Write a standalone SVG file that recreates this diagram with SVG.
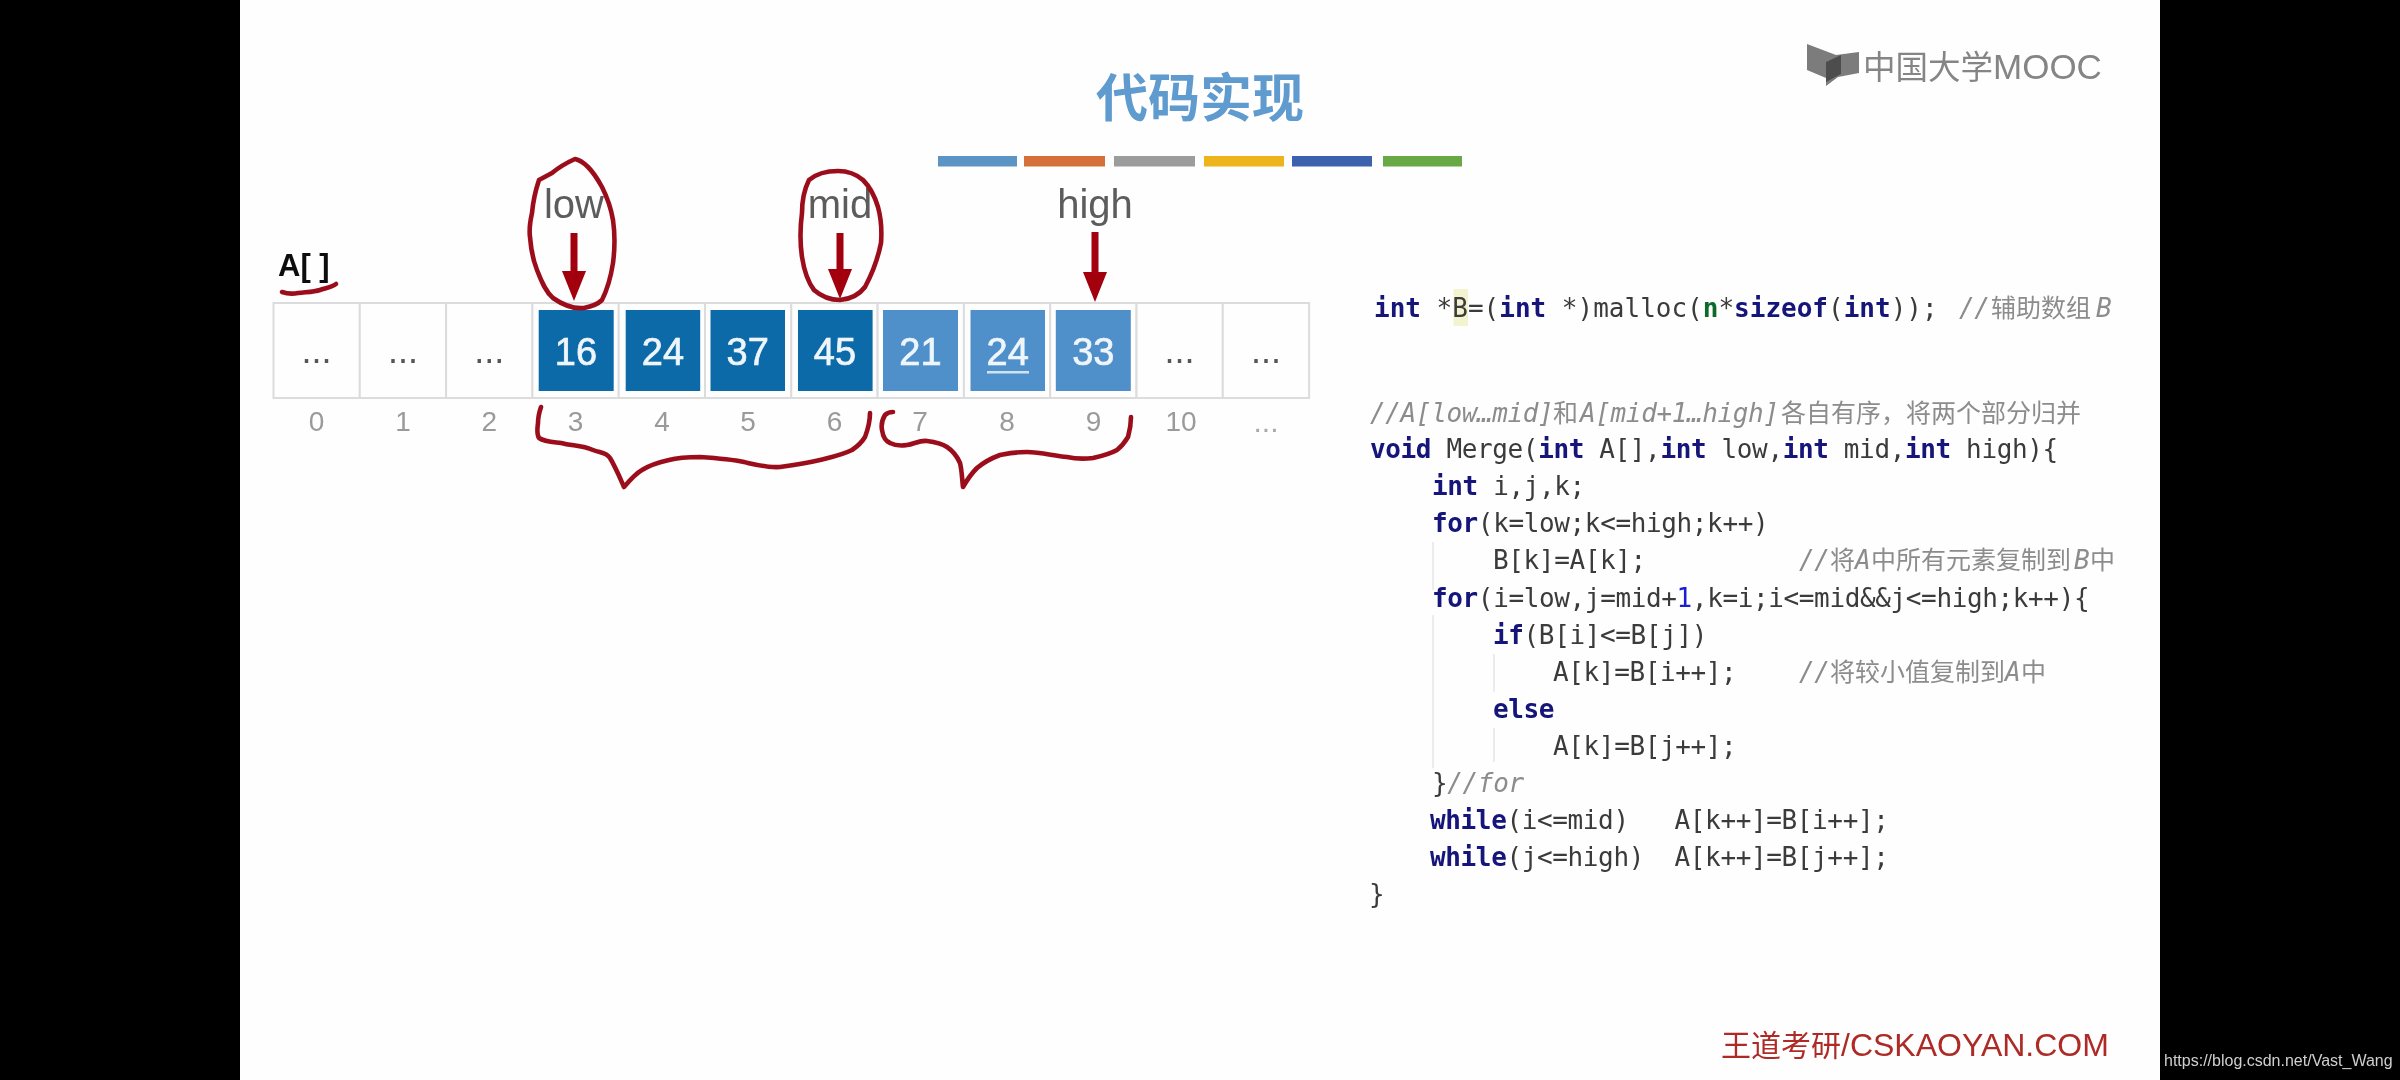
<svg xmlns="http://www.w3.org/2000/svg" width="2400" height="1080" viewBox="0 0 2400 1080">
<style>
.cell{fill:#fefefe;stroke:#dcdcdc;stroke-width:2}
.dark{fill:#0f6aa8}
.light{fill:#5090cb}
.val{font:400 38px "Liberation Sans",sans-serif;fill:#eef6fb;stroke:#eef6fb;stroke-width:.7;text-anchor:middle}
.dots{font:400 36px "Liberation Sans",sans-serif;fill:#555;text-anchor:middle}
.idx{font:400 28px "Liberation Sans",sans-serif;fill:#9a9a9a;text-anchor:middle}
.ptr{font:400 40px "Liberation Sans",sans-serif;fill:#5c5c5c;text-anchor:middle}
.ink{fill:none;stroke:#9c0d1c;stroke-width:4.6;stroke-linecap:round;stroke-linejoin:round}
.arrow{stroke:#a30010;stroke-width:7;fill:none;marker-end:url(#head)}
.code{font:400 26px "DejaVu Sans Mono","Noto Sans CJK SC",monospace;fill:#3a3a3a;white-space:pre;letter-spacing:-.37px}
.wide{letter-spacing:0}
.k{font-weight:700;fill:#12127a}
.c{font-style:italic;fill:#8c8c8c}
.cj{font-size:25px;font-style:normal;letter-spacing:0}
.guide{stroke:#e6e6e6;stroke-width:1.5}
</style>
<defs>
<marker id="head" markerUnits="userSpaceOnUse" markerWidth="30" markerHeight="24" refX="0" refY="12" orient="auto" viewBox="0 0 30 24">
<polygon points="0,0 30,12 0,24" fill="#a30010"/>
</marker>
<filter id="soft" filterUnits="userSpaceOnUse" x="0" y="0" width="2400" height="1080"><feGaussianBlur stdDeviation="0.7"/></filter>
</defs>
<rect width="2400" height="1080" fill="#000"/>
<rect id="slide" x="240" y="0" width="1920" height="1080" fill="#fefefe"/>
<g filter="url(#soft)">

<g id="logo">
<polygon points="1807,44 1807,70 1826,78 1826,86 1838,77 1859,73 1859,52 1836,55" fill="#7c7c7c"/>
<polygon points="1826,62 1841,55 1841,74 1826,82" fill="#4e4e4e"/>
<text x="1863" y="79" font-family="'Noto Sans CJK SC',sans-serif" font-size="32.5" fill="#858585">中国大学<tspan font-family="'Liberation Sans',sans-serif" font-size="35">MOOC</tspan></text>
</g>

<g id="title">
<text x="1200" y="117" text-anchor="middle" font-family="'Noto Sans CJK SC',sans-serif" font-size="52" font-weight="700" fill="#5f9bcf">代码实现</text>
<rect x="938" y="156" width="79" height="10.5" fill="#5b94c6"/>
<rect x="1024" y="156" width="81" height="10.5" fill="#d5703a"/>
<rect x="1114" y="156" width="81" height="10.5" fill="#9c9c9c"/>
<rect x="1204" y="156" width="80" height="10.5" fill="#edb41c"/>
<rect x="1292" y="156" width="80" height="10.5" fill="#3e62ad"/>
<rect x="1383" y="156" width="79" height="10.5" fill="#67a844"/>
</g>

<g id="array-label"><text x="278" y="276" font-family="'Liberation Sans',sans-serif" font-size="31" font-weight="700" fill="#111">A[ ]</text></g>

<g id="cell-0"><rect class="cell" x="273.5" y="303" width="86.3" height="95"/><text class="dots" x="316.6" y="363">...</text><text class="idx" x="316.6" y="431">0</text></g>
<g id="cell-1"><rect class="cell" x="359.8" y="303" width="86.3" height="95"/><text class="dots" x="403" y="363">...</text><text class="idx" x="403" y="431">1</text></g>
<g id="cell-2"><rect class="cell" x="446.1" y="303" width="86.3" height="95"/><text class="dots" x="489.2" y="363">...</text><text class="idx" x="489.2" y="431">2</text></g>
<g id="cell-3"><rect class="cell" x="532.4" y="303" width="86.3" height="95"/><rect class="dark" x="538.7" y="310" width="75" height="81"/><text class="val" x="576" y="365">16</text><text class="idx" x="575.5" y="431">3</text></g>
<g id="cell-4"><rect class="cell" x="618.7" y="303" width="86.3" height="95"/><rect class="dark" x="625.7" y="310" width="74.5" height="81"/><text class="val" x="663" y="365">24</text><text class="idx" x="662" y="431">4</text></g>
<g id="cell-5"><rect class="cell" x="705" y="303" width="86.3" height="95"/><rect class="dark" x="710.5" y="310" width="74.5" height="81"/><text class="val" x="747.7" y="365">37</text><text class="idx" x="748" y="431">5</text></g>
<g id="cell-6"><rect class="cell" x="791.3" y="303" width="86.3" height="95"/><rect class="dark" x="798" y="310" width="74.6" height="81"/><text class="val" x="835" y="365">45</text><text class="idx" x="834.5" y="431">6</text></g>
<g id="cell-7"><rect class="cell" x="877.6" y="303" width="86.3" height="95"/><rect class="light" x="883" y="310" width="75" height="81"/><text class="val" x="920.5" y="365">21</text><text class="idx" x="920" y="431">7</text></g>
<g id="cell-8"><rect class="cell" x="963.9" y="303" width="86.3" height="95"/><rect class="light" x="970.5" y="310" width="74.5" height="81"/><text class="val" x="1007.7" y="365">24</text><rect x="987" y="371" width="42" height="2.5" fill="#cfe3f3"/><text class="idx" x="1007" y="431">8</text></g>
<g id="cell-9"><rect class="cell" x="1050.2" y="303" width="86.3" height="95"/><rect class="light" x="1055.8" y="310" width="75" height="81"/><text class="val" x="1093.3" y="365">33</text><text class="idx" x="1093.5" y="431">9</text></g>
<g id="cell-10"><rect class="cell" x="1136.5" y="303" width="86.3" height="95"/><text class="dots" x="1179.6" y="363">...</text><text class="idx" x="1181" y="431">10</text></g>
<g id="cell-11"><rect class="cell" x="1222.8" y="303" width="86.3" height="95"/><text class="dots" x="1266" y="363">...</text><text class="dots" x="1266" y="432" style="fill:#aaa;font-size:30px">...</text></g>

<g id="pointer-low"><text class="ptr" x="574" y="218">low</text></g>
<g id="pointer-mid"><text class="ptr" x="840" y="218">mid</text></g>
<g id="pointer-high"><text class="ptr" x="1095" y="218">high</text></g>

<g id="connectors">
<line class="arrow" x1="574" y1="233" x2="574" y2="271"/>
<line class="arrow" x1="840" y1="233" x2="840" y2="269"/>
<line class="arrow" x1="1095" y1="232" x2="1095" y2="272"/>
</g>

<g id="annotations">
<path class="ink" d="M575 159C566 163 558 168 552 173L539 180C535 192 533 202 532 213C530 222 529 230 530 237C531 250 533 260 537 270C542 283 546 292 553 298C563 305 574 309 584 308C594 306 598 304 602 300C608 288 611 276 613 263C615 248 615 234 613 220C611 208 607 197 602 187C597 178 593 172 588 167C584 163 580 160 575 159Z"/>
<path class="ink" d="M838 171C827 171 816 174 809 180C804 190 802 202 802 213C800 228 800 243 802 257C804 270 808 282 814 290C822 297 832 300 840 300C851 299 859 295 865 287C872 274 878 258 881 243C882 230 881 218 878 207C875 197 870 187 863 180C856 174 847 171 838 171Z"/>
<path class="ink" d="M282 292C288 294 293 294 298 293C306 292 314 292 320 290C326 288 332 287 336 284"/>
<path class="ink" d="M541 407C539 413 538 418 538 423C537 430 537 435 539 438C545 442 553 442 561 443C572 446 582 445 593 450C600 453 606 452 610 458C616 468 620 478 624 487C630 480 635 474 642 470C650 465 660 462 669 460C680 457 690 457 700 457C715 458 730 459 744 462C757 465 768 468 780 467C794 465 807 463 820 460C832 457 842 455 852 450C858 446 862 442 865 437C868 429 870 421 870 413"/>
<path class="ink" d="M893 412C889 412 887 413 885 415C882 420 881 425 882 430C883 437 885 441 890 443C896 446 901 446 907 445C914 444 920 440 927 441C935 442 941 443 947 447C953 451 957 456 960 463C962 471 962 479 963 487C967 480 971 474 977 468C984 462 992 458 1000 455C1009 453 1018 452 1027 452C1041 452 1054 456 1067 457C1076 459 1085 459 1093 458C1102 456 1110 454 1117 450C1122 446 1125 442 1128 437C1130 430 1131 424 1131 417"/>
</g>

<g id="code">
<rect x="1453.5" y="289" width="14.5" height="37" fill="#f3f3cf"/>
<line class="guide" x1="1433" y1="542" x2="1433" y2="590"/>
<line class="guide" x1="1433" y1="615" x2="1433" y2="768"/>
<line class="guide" x1="1494" y1="654" x2="1494" y2="692"/>
<line class="guide" x1="1494" y1="728" x2="1494" y2="762"/>
<text class="code wide" x="1374" y="317"><tspan class="k">int</tspan> *B=(<tspan class="k">int</tspan> *)malloc(<tspan class="k" style="fill:#0f6a2a">n</tspan>*<tspan class="k">sizeof</tspan>(<tspan class="k">int</tspan>));</text>
<text class="code c" x="1959" y="317">//<tspan class="cj" x="1991">辅助数组</tspan><tspan x="2096">B</tspan></text>
<text class="code c" x="1370" y="421.5">//A[low…mid]<tspan class="cj" x="1553">和</tspan><tspan x="1580">A[mid+1…high]</tspan><tspan class="cj" x="1781">各自有序，将两个部分归并</tspan></text>
<text class="code" x="1370" y="458"><tspan class="k">void</tspan> Merge(<tspan class="k">int</tspan> A[],<tspan class="k">int</tspan> low,<tspan class="k">int</tspan> mid,<tspan class="k">int</tspan> high){</text>
<text class="code" x="1432" y="495"><tspan class="k">int</tspan> i,j,k;</text>
<text class="code" x="1432" y="532"><tspan class="k">for</tspan>(k=low;k&lt;=high;k++)</text>
<text class="code" x="1493" y="569">B[k]=A[k];</text>
<text class="code c" x="1799" y="569">//<tspan class="cj" x="1830">将</tspan><tspan x="1855">A</tspan><tspan class="cj" x="1871">中所有元素复制到</tspan><tspan x="2074">B</tspan><tspan class="cj" x="2090">中</tspan></text>
<text class="code" x="1432" y="606.5"><tspan class="k">for</tspan>(i=low,j=mid+<tspan style="fill:#1a1ad0">1</tspan>,k=i;i&lt;=mid&amp;&amp;j&lt;=high;k++){</text>
<text class="code" x="1493" y="644"><tspan class="k">if</tspan>(B[i]&lt;=B[j])</text>
<text class="code" x="1553" y="681">A[k]=B[i++];</text>
<text class="code c" x="1799" y="681">//<tspan class="cj" x="1830">将较小值复制到</tspan><tspan x="2005">A</tspan><tspan class="cj" x="2021">中</tspan></text>
<text class="code k" x="1493" y="718">else</text>
<text class="code" x="1553" y="755">A[k]=B[j++];</text>
<text class="code" x="1432" y="792">}<tspan class="c">//for</tspan></text>
<text class="code" x="1430" y="829"><tspan class="k">while</tspan>(i&lt;=mid)   A[k++]=B[i++];</text>
<text class="code" x="1430" y="866"><tspan class="k">while</tspan>(j&lt;=high)  A[k++]=B[j++];</text>
<text class="code" x="1369" y="903">}</text>
</g>

<g id="watermark">
<text x="1721" y="1056" font-family="'Noto Sans CJK SC',sans-serif" font-size="30" fill="#ad2c25">王道考研<tspan font-family="'Liberation Sans',sans-serif" font-size="32">/CSKAOYAN.COM</tspan></text>
<text x="2164" y="1066" font-family="'Liberation Sans',sans-serif" font-size="16" fill="#cfcfcf">https://blog.csdn.net/Vast_Wang</text>
</g>
</g>
</svg>
